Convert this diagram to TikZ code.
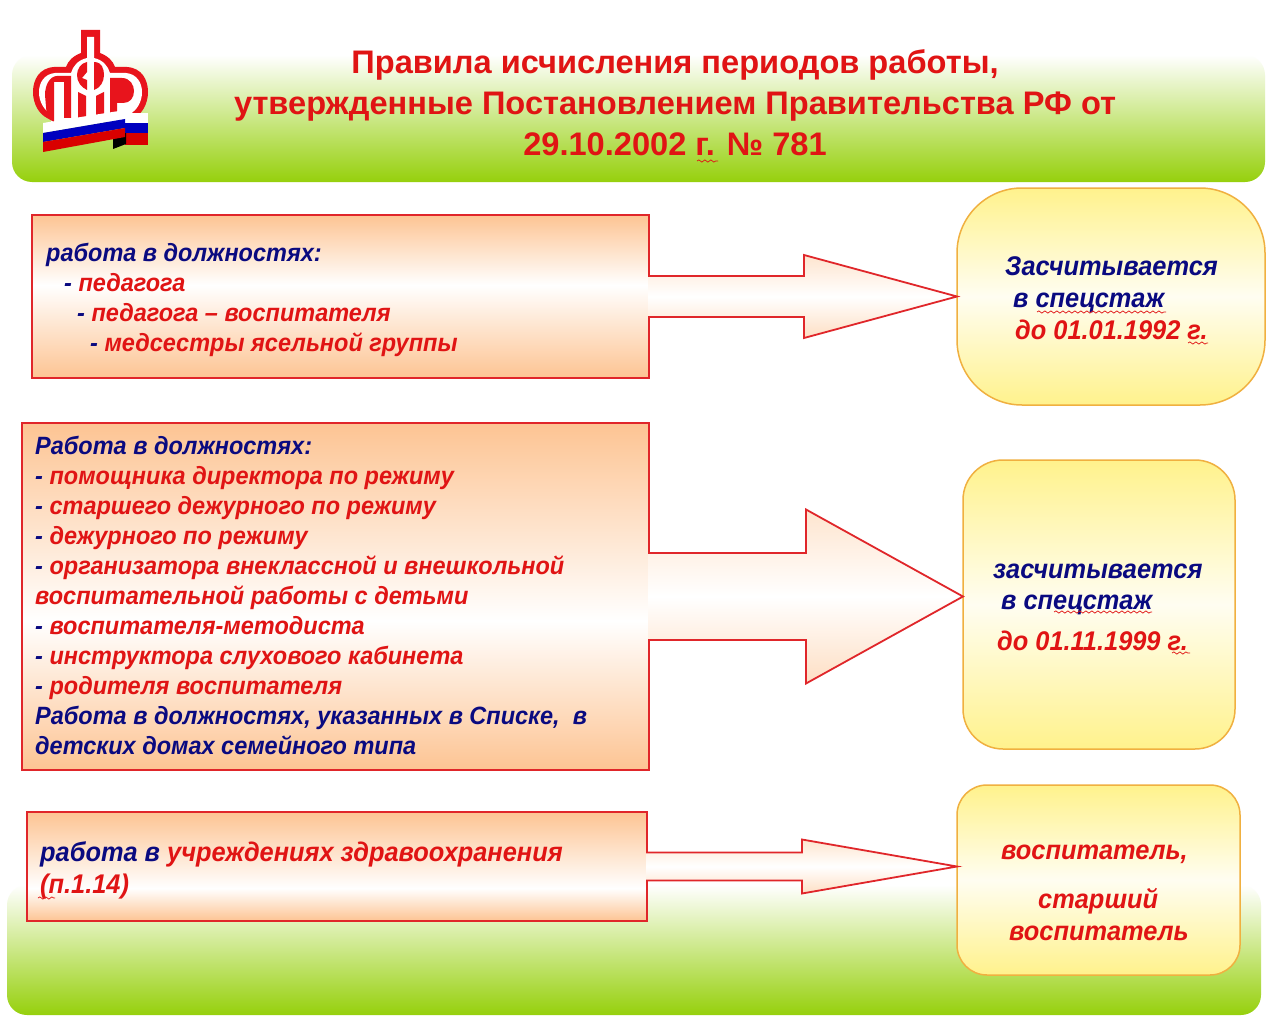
\documentclass[tikz,border=0pt]{standalone}
\usepackage{fontspec}
\setmainfont{Liberation Sans}
\newfontfamily\boxfont{Liberation Sans}[FakeStretch=0.94]
\usetikzlibrary{calc, decorations.pathmorphing}
\definecolor{vgreen}{HTML}{96D00C}
\definecolor{vred}{HTML}{E01414}
\definecolor{vnavy}{HTML}{0A0A80}
\definecolor{peach}{HTML}{FDC493}
\definecolor{frame}{HTML}{E0262A}
\definecolor{amberline}{HTML}{F0B040}
\definecolor{lemon}{HTML}{FFF28C}
\definecolor{logored}{HTML}{E8141C}
\pgfdeclareverticalshading{boxfadeA}{100bp}{color(0bp)=(peach); color(25bp)=(peach); color(53.5bp)=(white); color(75bp)=(peach); color(100bp)=(peach)}
\pgfdeclareverticalshading{boxfadeB}{100bp}{color(0bp)=(peach); color(25bp)=(peach); color(46.5bp)=(white); color(75bp)=(peach); color(100bp)=(peach)}
\pgfdeclareverticalshading{boxfadeC}{100bp}{color(0bp)=(peach); color(25bp)=(peach); color(40bp)=(white); color(75bp)=(peach); color(100bp)=(peach)}
\pgfdeclareverticalshading{ovalfade}{100bp}{color(0bp)=(lemon); color(25bp)=(lemon); color(50bp)=(lemon!12); color(75bp)=(lemon); color(100bp)=(lemon)}

\begin{document}
\begin{tikzpicture}[
  x=1pt, y=-1pt,
  font=\fontsize{25}{30}\selectfont\boxfont\bfseries\itshape,
  band/.style={rounded corners=20pt, top color=white, bottom color=vgreen},
  jobbox/.style={draw=frame, line width=1.8pt, outer sep=0pt, inner sep=0pt},
  ruleoval/.style={draw=amberline, line width=1.5pt, shading=ovalfade, outer sep=0pt, inner sep=0pt},
  flowarrow/.style={draw=frame, line width=1.8pt, top color=peach!45, bottom color=peach!55, middle color=white},
  txt/.style={anchor=north west, inner sep=0pt, align=left, text=vred},
  bigtxt/.style={txt, font=\fontsize{27}{31}\selectfont\boxfont\bfseries\itshape},
  squiggle/.style={draw=vred, line width=0.7pt, decorate, decoration={snake, amplitude=1.1pt, segment length=6pt}}
]
\useasboundingbox (0,0) rectangle (1282,1030);
\fill[white] (0,0) rectangle (1282,1030);

% ---- Green bands ----
\path[band] (12,55) rectangle (1265,182);
\path[band] (7,885) rectangle (1261,1015);

% ---- Logo ----
\fill[logored] (81,30) -- (100,30) -- (100,53) .. controls (108,56) and (113,61) .. (115,67)
  -- (127,67) .. controls (142,68) and (148,80) .. (148,92) .. controls (148,104) and (142,114) .. (134,118)
  -- (47,118) .. controls (39,114) and (33,104) .. (33,92) .. controls (33,80) and (39,68) .. (54,67)
  -- (66,67) .. controls (68,61) and (73,56) .. (81,53) -- cycle;
\fill[white] (87,37) -- (94,37) -- (94,58) .. controls (103,60) and (108,66) .. (110,73)
  -- (126,73) .. controls (137,74) and (142,83) .. (142,92) .. controls (142,102) and (137,110) .. (130,114)
  -- (130,122) -- (51,122) -- (51,114) .. controls (44,110) and (39,102) .. (39,92) .. controls (39,83) and (44,74) .. (55,73)
  -- (71,73) .. controls (73,66) and (78,60) .. (87,58) -- cycle;
% letters
\fill[logored] (45,95) .. controls (45,85) and (50,76) .. (57,76) -- (71,76) -- (71,118) -- (64,118) -- (64,82)
  -- (54,82) -- (54,122) -- (47,118) -- cycle;
\fill[logored] (110,78) -- (122,78) .. controls (130,78) and (134,85) .. (134,91) .. controls (134,98) and (130,103) .. (123,103)
  -- (117,103) -- (117,118) -- (110,118) -- cycle;
\fill[logored] (78,92) -- (86,96) -- (86,118) -- (78,118) -- cycle;
\fill[logored] (96,96) -- (104,92) -- (104,118) -- (96,118) -- cycle;
\fill[logored] (94,62) .. controls (102,62) and (104,69) .. (104,75) .. controls (104,82) and (100,88) .. (94,90) -- cycle;
\fill[logored] (87,62) .. controls (81,63) and (77,69) .. (77,75) .. controls (77,82) and (81,87) .. (87,90) -- (87,80) -- (82,78) -- (87,72) -- cycle;

% ---- Ribbon ----
\foreach \col/\ya/\yb in {white/113/123, blue!75!black/123/133, red!85!black/133/145} {
  \fill[\col] (125,\ya) -- (148,\ya) -- (148,\yb) -- (125,\yb) -- cycle;
}
\fill[black] (113,136) -- (126,133) -- (126,144) -- (113,149) -- cycle;
\foreach \col/\ya/\yb/\yc/\yd in {white/123/110/119/133, blue!75!black/133/119/128/142, red!85!black/142/128/137/152} {
  \fill[\col] (43,\ya) -- (125,\yb) -- (125,\yc) -- (43,\yd) -- cycle;
}

% ---- Title ----
\node[font=\fontsize{32.6}{41}\selectfont\rmfamily\bfseries, align=center, text=vred] (title) at (675,103)
  {Правила исчисления периодов работы,\\
   утвержденные Постановлением Правительства РФ от\\
   29.10.2002 г. № 781};

% ---- Left boxes ----
\node[jobbox, shading=boxfadeA, minimum width=617pt, minimum height=163pt] (job1) at (340.5,296.5) {};
\node[jobbox, shading=boxfadeB, minimum width=627pt, minimum height=347pt] (job2) at (335.5,596.5) {};
\node[jobbox, shading=boxfadeC, minimum width=620pt, minimum height=109pt] (job3) at (337,866.5) {};

% ---- Right boxes ----
\node[ruleoval, minimum width=308pt, minimum height=217pt, rounded corners=65pt] (rule1) at (1111,296.5) {};
\node[ruleoval, minimum width=272pt, minimum height=289pt, rounded corners=40pt] (rule2) at (1099,604.5) {};
\node[ruleoval, minimum width=283pt, minimum height=190pt, rounded corners=30pt] (rule3) at (1098.5,880) {};

% ---- Block arrows ----
\foreach \from/\to/\neckx/\tail/\head in {job1/rule1/804/20.5/41.5, job2/rule2/806/43.5/87, job3/rule3/802/14/27} {
  \coordinate (neck) at (\neckx,0);
  \draw[flowarrow] ($(\from.east)+(-1,-\tail)$) -- ($(neck |- \from.east)+(0,-\tail)$)
    -- ($(neck |- \from.east)+(0,-\head)$) -- (\to.west |- \from.east)
    -- ($(neck |- \from.east)+(0,\head)$) -- ($(neck |- \from.east)+(0,\tail)$)
    -- ($(\from.east)+(-1,\tail)$);
}

% ---- Box texts ----
\node[txt] (job1txt) at (46,243) {\textcolor{vnavy}{работа в должностях:}\\
  \hspace*{18pt}\textcolor{vnavy}{- }педагога\\
  \hspace*{31pt}\textcolor{vnavy}{- }педагога – воспитателя\\
  \hspace*{44pt}\textcolor{vnavy}{- }медсестры ясельной группы};
\node[txt] (job2txt) at (35,436) {\textcolor{vnavy}{Работа в должностях:}\\
  \textcolor{vnavy}{- }помощника директора по режиму\\
  \textcolor{vnavy}{- }старшего дежурного по режиму\\
  \textcolor{vnavy}{- }дежурного по режиму\\
  \textcolor{vnavy}{- }организатора внеклассной и внешкольной\\
  воспитательной работы с детьми\\
  \textcolor{vnavy}{- }воспитателя-методиста\\
  \textcolor{vnavy}{- }инструктора слухового кабинета\\
  \textcolor{vnavy}{- }родителя воспитателя\\
  \textcolor{vnavy}{Работа в должностях, указанных в Списке,\ \ в}\\
  \textcolor{vnavy}{детских домах семейного типа}};
\node[bigtxt] (job3txt) at (40,841) {\textcolor{vnavy}{работа в }учреждениях здравоохранения\\[1pt]
  (п.1.14)};

\node[bigtxt] (rule1txt) at (1005,256) {\textcolor{vnavy}{Засчитывается}\\[1pt]
  \hspace*{8pt}\textcolor{vnavy}{в спецстаж}\\[1pt]
  \hspace*{10pt}до 01.01.1992 г.};
\node[bigtxt] (rule2txt) at (993,564) {\textcolor{vnavy}{засчитывается}\\
  \hspace*{8pt}\textcolor{vnavy}{в спецстаж}\\[10pt]
  \hspace*{4pt}до 01.11.1999 г.};
\node[bigtxt] (rule3txt) at (1001,845) {воспитатель,\\[18pt]
  \hspace*{37pt}старший\\[1pt]
  \hspace*{8pt}воспитатель};

% ---- Spell-check marks ----
\foreach \xa/\xb/\ym in {697/718/161, 1037/1166/312, 1188/1208/343, 1054/1152/612, 1172/1190/653, 38/55/898} {
  \draw[squiggle] (\xa,\ym) -- (\xb,\ym);
}
\end{tikzpicture}
\end{document}
